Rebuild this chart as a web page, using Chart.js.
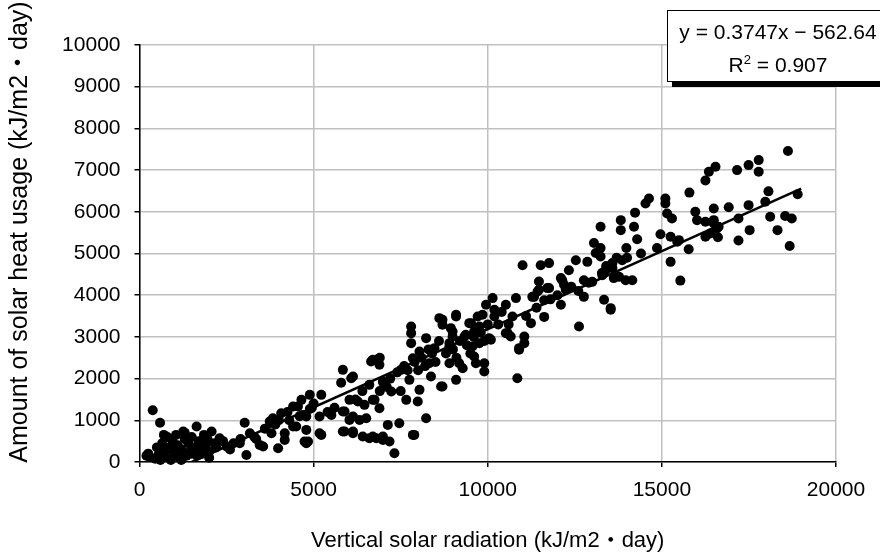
<!DOCTYPE html>
<html>
<head>
<meta charset="utf-8">
<title>Solar heat usage vs vertical solar radiation</title>
<script src="https://cdn.jsdelivr.net/npm/chart.js@4.4.1/dist/chart.umd.min.js"></script>
<style>
    html, body { margin: 0; padding: 0; background: #fff; overflow: hidden; }
    #wrap { position: relative; width: 880px; height: 560px; }
    #eq {
        position: absolute; left: 667px; top: 10px;
        width: 220px; height: 66px; padding-top: 4px;
        border: 1px solid #000; background: #fff;
        box-shadow: 5px 5px 0 #000;
        font: 21px "Liberation Sans", Arial, sans-serif;
        line-height: 33px; text-align: center; color: #000;
        white-space: nowrap;
    }
    #eq sup { font-size: 13px; vertical-align: 8px; line-height: 0; }
</style>
</head>
<body>
<div id="wrap">
    <canvas id="myChart" width="880" height="560"></canvas>
    <div id="eq">y = 0.3747x − 562.64<br>R<sup>2</sup> = 0.907</div>
</div>
<script>
// x values: vertical solar radiation (kJ/m2・day)
const radiation = [
    250, 300, 380, 450, 500, 550, 590, 650, 700, 750,
    800, 850, 900, 950, 1000, 1050, 1100, 1150, 1200, 1255,
    1300, 1350, 1400, 1450, 1500, 1550, 1640, 1650, 1700, 1750,
    1800, 1850, 1900, 1950, 2000, 2070, 2150, 2200, 2300, 2400,
    2500, 2600, 2700, 2880, 2900, 3020, 3070, 3170, 700, 900,
    1100, 1300, 1500, 1800, 2000, 200, 600, 1200,
    // 3300 - 6300
    3450, 3550, 3740, 3790, 3830, 3980, 4070, 4170, 4170, 4410,
    4410, 4500, 4550, 4650, 4690, 4740, 4790, 4790, 4790, 4840,
    4890, 4890, 5170, 5170, 5220, 5220, 5510, 5790, 5840, 5840,
    5840, 5890, 5890, 6030, 6030, 6080, 6130, 6130, 6130, 6130,
    6270, 6320, 3300, 3600, 3900, 4000, 4300, 4600, 5000, 5400,
    3350, 4250, 4950, 5600,
    // 6300 - 10000
    6410, 6460, 6510, 6600, 6650, 6700, 6700, 6700, 6750, 6800,
    6800, 6890, 6890, 6900, 6990, 6990, 6990, 7130, 7180, 7230,
    7320, 7460, 7510, 7660, 7750, 7800, 7800, 7800, 7850, 7850,
    7890, 7990, 8040, 8040, 8230, 8230, 8320, 8370, 8470, 8610,
    8660, 8700, 8700, 8700, 8900, 8900, 8900, 8940, 8990, 8990,
    9090, 9090, 9090, 9180, 9280, 9330, 9370, 9470, 9520, 9560,
    9610, 9610, 9660, 9710, 9760, 9760, 9850, 9900, 9900, 9950,
    7000, 7200, 7400, 7600, 7700, 7900, 8100, 8200, 8400, 8500,
    8800, 9000, 9200, 9400, 9600, 9800, 6200, 6400, 6600, 6900,
    7100, 7500, 8000, 8300, 8600, 9100, 9500, 9900, 10000,
    // 10000 - 13000
    10040, 10090, 10140, 10190, 10190, 10520, 10520, 10570, 10660, 10710,
    10810, 10850, 10900, 10900, 11000, 11050, 11050, 11240, 11280, 11330,
    11430, 11470, 11470, 11520, 11620, 11620, 11710, 11760, 11760, 12100,
    12100, 12140, 12190, 12240, 12330, 12530, 12620, 12760, 12760, 12860,
    13000, 13050, 13100, 10300, 10400, 10600, 11100, 11400, 11800, 12000,
    12400, 12600, 12900,
    // 13000 - 19000
    13240, 13240, 13240, 13280, 13290, 13340, 13380, 13530, 13530, 13580,
    13580, 13620, 13770, 13820, 13820, 13860, 13960, 13980, 14150, 14200,
    14230, 14290, 14530, 14630, 14860, 14960, 15100, 15100, 15150, 15250,
    15250, 15290, 15440, 15490, 15530, 15770, 15790, 15960, 16010, 16250,
    16250, 16250, 16350, 16390, 16490, 16490, 16490, 16540, 16580, 16610,
    16630, 16920, 17160, 17200, 17200, 17490, 17490, 17520, 17780, 17780,
    17970, 18060, 18110, 18320, 18540, 18620, 18670, 18730, 18900, 13400,
    13700, 14000, 14400
];

// y values: amount of solar heat usage (kJ/m2・day)
const heatUsage = [
    200, 120, 1240, 80, 350, 180, 940, 450, 280, 120,
    600, 350, 50, 500, 200, 650, 400, 100, 300, 730,
    550, 150, 450, 250, 600, 350, 850, 150, 500, 300,
    200, 650, 400, 550, 250, 730, 450, 350, 570, 500,
    370, 300, 450, 450, 550, 940, 170, 690, 650, 300,
    150, 700, 200, 500, 100, 150, 50, 50,
    // 3300 - 6300
    410, 370, 970, 690, 1050, 330, 1170, 530, 690, 1330,
    850, 850, 1330, 1490, 1130, 490, 770, 1090, 450, 490,
    1610, 1270, 690, 1090, 1610, 650, 1130, 1900, 2210, 1210,
    730, 1210, 730, 1490, 1010, 2010, 2050, 730, 690, 1090,
    1450, 1010, 600, 800, 900, 1000, 1000, 1100, 1400, 1200,
    550, 1200, 1300, 1300,
    // 6300 - 10000
    610, 1370, 1050, 570, 2410, 2450, 610, 1490, 1490, 570,
    2450, 2330, 1290, 2500, 530, 610, 1930, 890, 490, 1690,
    210, 930, 2210, 1490, 1970, 3250, 3090, 2850, 2490, 650,
    650, 1450, 2650, 1730, 2970, 1050, 2370, 2050, 2730, 3450,
    1810, 3290, 3410, 1810, 2370, 2850, 2770, 3210, 3130, 3010,
    3530, 1970, 3490, 2370, 2250, 3010, 3050, 3330, 3330, 2770,
    3130, 2530, 2370, 3490, 3250, 2850, 3530, 2370, 2170, 3770,
    1900, 2000, 2150, 2300, 2200, 2400, 2500, 2300, 2600, 2400,
    2600, 2700, 2900, 2800, 3000, 3100, 1500, 1700, 1850, 1700,
    1800, 1700, 2200, 2700, 2900, 2500, 2600, 2900, 3300,
    // 10000 - 13000
    2970, 2930, 3930, 3650, 3490, 3770, 3090, 3090, 3010, 3490,
    3930, 2010, 2730, 2690, 4720, 3010, 2850, 3330, 3960, 3960,
    4090, 4330, 4130, 4720, 3880, 3480, 4170, 4770, 4170, 4410,
    3770, 4360, 4250, 4130, 4600, 4840, 3250, 4360, 3960, 4800,
    4320, 5250, 5010, 3300, 3600, 3300, 3500, 3700, 3900, 4000,
    4200, 4100, 4300,
    // 13000 - 19000
    5640, 5130, 4930, 4530, 4480, 3890, 4600, 3650, 3690, 4650,
    4770, 4410, 4440, 5800, 5560, 4840, 4360, 5130, 4360, 5640,
    5980, 5340, 6200, 6320, 5130, 5460, 6320, 6200, 5960, 5400,
    4800, 5840, 5280, 5320, 4350, 5100, 6460, 6000, 5800, 6750,
    5760, 5400, 6960, 5480, 6080, 5720, 5800, 7080, 5600, 5390,
    5640, 6110, 7000, 5840, 5310, 6160, 7120, 5560, 6960, 7240,
    6240, 6490, 5880, 5560, 5900, 7460, 5180, 5840, 6420, 4700,
    4900, 4900, 5000
];

// linear trendline y = 0.3747x - 562.64, from where it meets 0 to the last point
const trendX = [1502, 19000];
const trendY = [0, 6557];

const xTicks = [0, 5000, 10000, 15000, 20000];
const yTicks = [0, 1000, 2000, 3000, 4000, 5000, 6000, 7000, 8000, 9000, 10000];

const xTitle = 'Vertical solar radiation (kJ/m2・day)';
const yTitle = 'Amount of solar heat usage (kJ/m2・day)';

const fontFamily = '"Liberation Sans", Arial, "Noto Sans CJK JP", sans-serif';

// the y title sits a little above the plot centre, like the Excel original
const yTitlePlugin = {
    id: 'yTitle',
    afterDraw(chart) {
        const ctx = chart.ctx;
        ctx.save();
        ctx.translate(20, 232);
        ctx.rotate(-Math.PI / 2);
        ctx.font = '25px ' + fontFamily;
        ctx.fillStyle = '#000';
        ctx.textAlign = 'center';
        ctx.textBaseline = 'middle';
        ctx.fillText(yTitle, 0, 0);
        ctx.restore();
    }
};

function createChart() {
    const points = radiation.map((x, i) => ({ x: x, y: heatUsage[i] }));
    const trend = trendX.map((x, i) => ({ x: x, y: trendY[i] }));

    const ctx = document.getElementById('myChart');
    new Chart(ctx, {
        type: 'scatter',
        data: {
            datasets: [
                {
                    label: 'Linear trend',
                    data: trend,
                    showLine: true,
                    borderColor: '#000',
                    borderWidth: 2.5,
                    pointRadius: 0,
                    fill: false
                },
                {
                    label: 'Measured',
                    data: points,
                    backgroundColor: '#000',
                    borderWidth: 0,
                    pointRadius: 5,
                    pointHoverRadius: 5,
                    clip: false
                }
            ]
        },
        options: {
            responsive: false,
            animation: false,
            layout: { padding: { top: 45, right: 44, left: 0, bottom: 0 } },
            scales: {
                x: {
                    type: 'linear',
                    min: 0,
                    max: 20000,
                    afterBuildTicks: (scale) => { scale.ticks = xTicks.map(v => ({ value: v })); },
                    afterFit: (scale) => { scale.height = 98; },
                    grid: { color: '#c0c0c0', lineWidth: 1.5, tickLength: 5, tickColor: '#000' },
                    border: { color: '#000', width: 1.5 },
                    ticks: {
                        color: '#000',
                        padding: 11,
                        maxRotation: 0,
                        callback: (v) => String(v),
                        font: { family: fontFamily, size: 21 }
                    },
                    title: {
                        display: true,
                        text: xTitle,
                        color: '#000',
                        padding: { top: 0, bottom: 6 },
                        font: { family: fontFamily, size: 22 }
                    }
                },
                y: {
                    type: 'linear',
                    min: 0,
                    max: 10000,
                    afterBuildTicks: (scale) => { scale.ticks = yTicks.map(v => ({ value: v })); },
                    afterFit: (scale) => { scale.width = 139.5; },
                    grid: { color: '#c0c0c0', lineWidth: 1.5, tickLength: 5, tickColor: '#000' },
                    border: { color: '#000', width: 1.5 },
                    ticks: {
                        color: '#000',
                        padding: 14,
                        callback: (v) => String(v),
                        font: { family: fontFamily, size: 21 }
                    },
                    title: { display: false }
                }
            },
            plugins: {
                legend: { display: false },
                tooltip: { enabled: false }
            }
        },
        plugins: [yTitlePlugin]
    });
}

createChart();
</script>
</body>
</html>
